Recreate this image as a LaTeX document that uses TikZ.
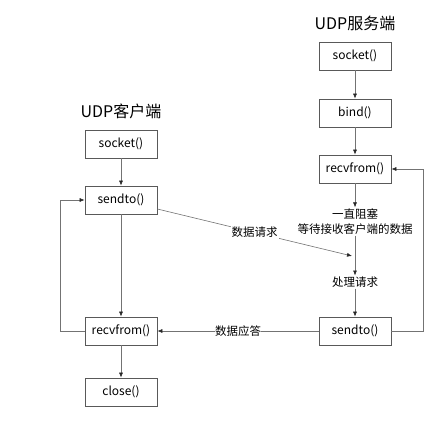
\documentclass[tikz,border=0pt]{standalone}
\usepackage{fontspec}
\setmainfont{Noto Sans CJK SC}
\usetikzlibrary{arrows.meta}
\begin{document}
\begin{tikzpicture}[x=1pt,y=-1pt,
  box/.style={draw=black!65,line width=0.7pt,minimum width=72pt,minimum height=28pt,inner sep=0pt,font=\fontsize{12}{14}\selectfont},
  ttl/.style={font=\fontsize{16}{18}\selectfont},
  lbl/.style={font=\fontsize{11.5}{15}\selectfont,inner sep=1pt},
  ln/.style={draw=black!55,line width=0.6pt},
  arr/.style={ln,-{Latex[length=5pt,width=4pt,color=black!85]}}]
\useasboundingbox (0,0) rectangle (437,443);
% titles
\node[ttl] (tc) at (121,111) {UDP客户端};
\node[ttl] (ts) at (355,23) {UDP服务端};
% client
\node[box] (csock) at (121,144) {socket()};
\node[box] (csend) at (121,200) {sendto()};
\node[box] (crecv) at (121,331) {recvfrom()};
\node[box] (cclose) at (121,392) {close()};
% server
\node[box] (ssock) at (355,56) {socket()};
\node[box] (sbind) at (355,113) {bind()};
\node[box] (srecv) at (355,169) {recvfrom()};
\node[lbl,align=center] (wait) at (355,221.5) {一直阻塞\\等待接收客户端的数据};
\node[lbl] (proc) at (355,282) {处理请求};
\node[box] (ssend) at (355,331) {sendto()};
\coordinate (hit) at (352,256);
% client arrows
\draw[arr] (csock) -- (csend);
\draw[arr] (csend) -- (crecv);
\draw[arr] (crecv) -- (cclose);
\draw[arr] (crecv.west) -- (60,331) -- (60,200) -- (csend.west);
% server arrows
\draw[arr] (ssock) -- (sbind);
\draw[arr] (sbind) -- (srecv);
\draw[arr] (srecv) -- (wait);
\draw[arr] (wait) -- (proc);
\draw[arr] (proc) -- (ssend);
\draw[arr] (ssend.east) -- (423,331) -- (423,169) -- (srecv.east);
% messages
\draw[arr] (csend.east |- 0,209) -- node[lbl,fill=white,pos=0.5] (req) {数据请求} (hit);
\draw[arr] (ssend.west) -- node[lbl,fill=white,pos=0.5,inner sep=0pt] (resp) {数据应答} (crecv.east);
\end{tikzpicture}
\end{document}
